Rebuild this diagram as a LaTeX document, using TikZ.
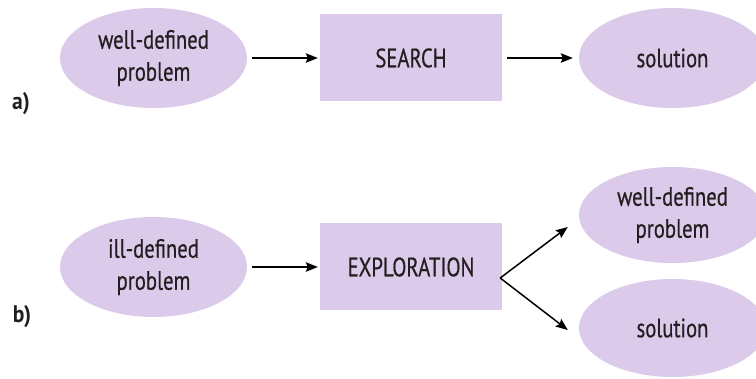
\documentclass[tikz,border=0pt]{standalone}
\usepackage{fontspec}
\setmainfont{PT Sans}[FakeStretch=0.78,FakeBold=0.5]
\newfontfamily\tagfont{PT Sans}[FakeStretch=0.9]
\usetikzlibrary{shapes.geometric,arrows.meta,calc}
\definecolor{lav}{RGB}{220,202,234}
\definecolor{ink}{RGB}{35,31,32}
\begin{document}
\begin{tikzpicture}[x=1pt,y=-1pt,
  every node/.style={text=ink,font=\fontsize{26.5}{32}\selectfont,align=center},
  oval/.style={ellipse,fill=lav,minimum width=187pt,minimum height=100pt,inner sep=0pt},
  block/.style={rectangle,fill=lav,minimum width=182pt,minimum height=87pt,inner sep=0pt},
  tag/.style={font=\tagfont\bfseries\fontsize{24}{28}\selectfont},
  flow/.style={line width=1.5pt,-{Stealth[length=12pt,width=9.5pt,inset=2pt]}}]
\useasboundingbox (0,0) rectangle (756,379);
\begin{scope}
\clip (0,0) rectangle (756,379);
% a) search path
\node[oval]  (wp)  at (153.5,58) {well-defined\\problem};
\node[block] (sr)  at (411,58) {SEARCH};
\node[oval]  (sol) at (672.5,58) {solution};
\node[tag]   (la)  at (21,104) {a)};
\draw[flow,shorten <=5pt,shorten >=2pt] (wp) -- (sr);
\draw[flow,shorten <=5pt,shorten >=6pt] (sr) -- (sol);
% b) exploration path
\node[oval]  (ip)  at (153.5,267) {ill-defined\\problem};
\node[block] (ex)  at (411,267) {EXPLORATION};
\node[oval,minimum height=96pt] (wp2) at (672.5,215) {well-defined\\problem};
\node[oval,minimum height=98pt] (sol2) at (672.5,328) {solution};
\node[tag]   (lb)  at (22,317) {b)};
\draw[flow,shorten <=5pt,shorten >=2pt] (ip) -- (ex);
% fork just right of the box, branching to both outcomes
\coordinate (fork) at ($(ex.east)+(-2,11)$);
\coordinate (up)   at ($(wp2.west)+(-11,12)$);
\coordinate (down) at ($(sol2.west)+(-11,2)$);
\draw[flow] (fork) -- (up);
\draw[flow] (fork) -- (down);
\end{scope}
\end{tikzpicture}
\end{document}
